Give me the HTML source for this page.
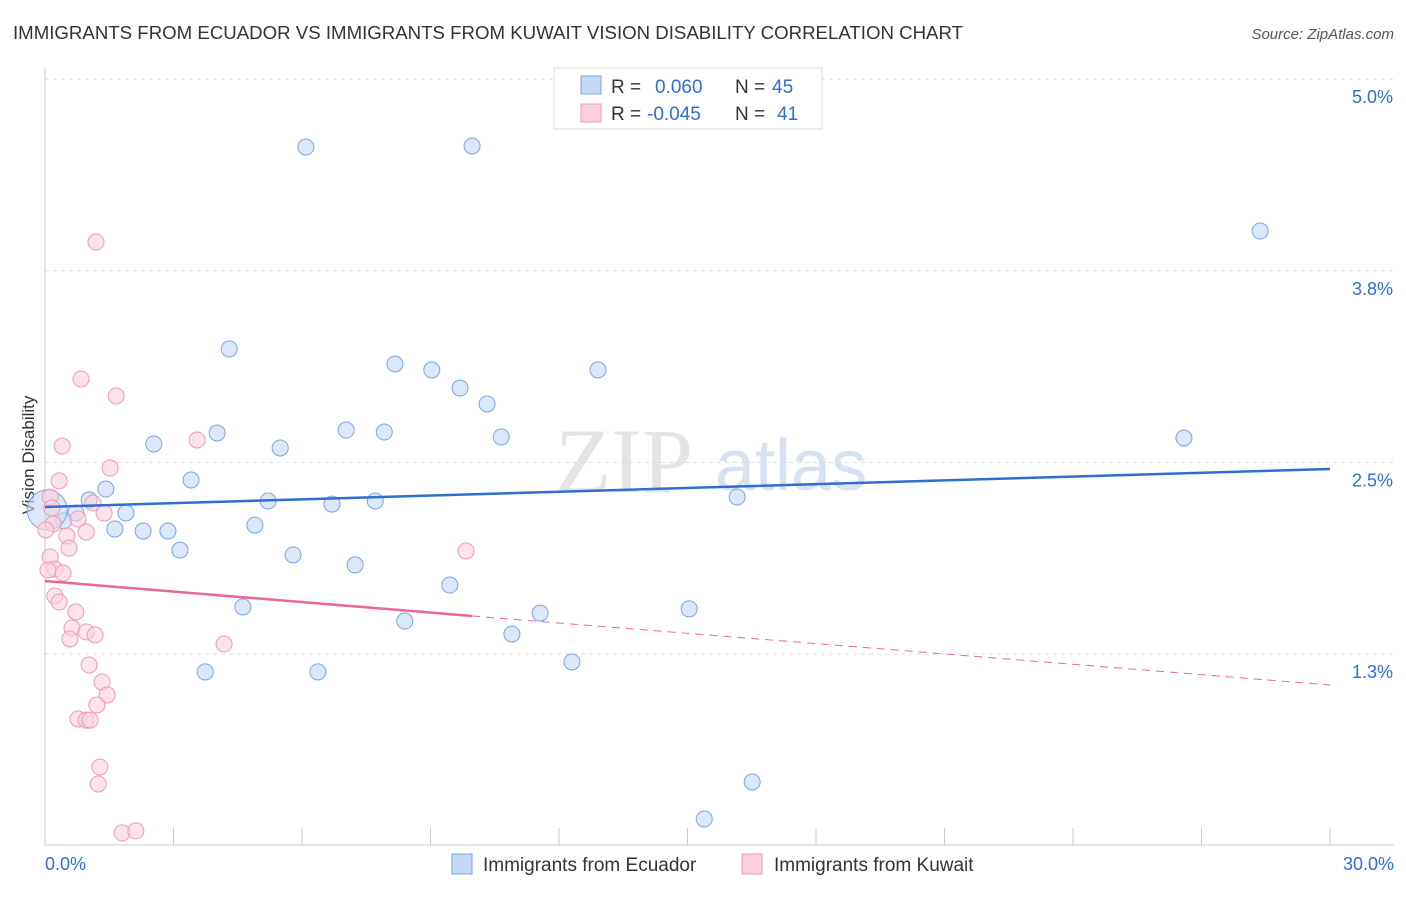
<!DOCTYPE html>
<html><head><meta charset="utf-8">
<style>
body{margin:0;background:#fff;font-family:"Liberation Sans",sans-serif;}
</style></head>
<body>
<svg id="chart" width="1406" height="892" xmlns="http://www.w3.org/2000/svg" font-family="Liberation Sans, sans-serif">
<text x="13" y="39" font-size="18" fill="#333" textLength="950" lengthAdjust="spacingAndGlyphs">IMMIGRANTS FROM ECUADOR VS IMMIGRANTS FROM KUWAIT VISION DISABILITY CORRELATION CHART</text>
<text x="1394" y="39" font-size="15" fill="#555" font-style="italic" text-anchor="end">Source: ZipAtlas.com</text>
<text x="555" y="492" font-size="92" fill="#e4e4e4" font-family="Liberation Serif, serif">ZIP</text>
<text x="715" y="490" font-size="72" fill="#d6e2f2">atlas</text>
<text transform="translate(34,455) rotate(-90)" font-size="17" fill="#333" text-anchor="middle">Vision Disability</text>
<g id="axes"></g>
<g id="marks"></g>
<g>
<rect x="554" y="68" width="268" height="61" fill="#fff" stroke="#ddd"/>
<rect x="581" y="76" width="20" height="18" fill="#c5d9f5" stroke="#7aa6e0"/>
<rect x="581" y="104" width="20" height="18" fill="#fbd0dd" stroke="#f09ab5"/>
<text x="611" y="93" font-size="19" fill="#333">R =</text>
<text x="655" y="93" font-size="19" fill="#2f6fd0">0.060</text>
<text x="735" y="93" font-size="19" fill="#333">N =</text>
<text x="772" y="93" font-size="19" fill="#2f6fd0">45</text>
<text x="611" y="120" font-size="19" fill="#333">R =</text>
<text x="647" y="120" font-size="19" fill="#2f6fd0">-0.045</text>
<text x="735" y="120" font-size="19" fill="#333">N =</text>
<text x="777" y="120" font-size="19" fill="#2f6fd0">41</text>
</g>
<g>
<rect x="452" y="854" width="20" height="20" fill="#c5d9f5" stroke="#7aa6e0"/>
<text x="483" y="871" font-size="19" fill="#333">Immigrants from Ecuador</text>
<rect x="742" y="854" width="20" height="20" fill="#fbd0dd" stroke="#f09ab5"/>
<text x="774" y="871" font-size="19" fill="#333">Immigrants from Kuwait</text>
</g>
</svg>
<script>
const yTicks=[1.25,2.5,3.75,5.0];
const yTickLabels=["1.3%","2.5%","3.8%","5.0%"];
const xTicks=[0,3,6,9,12,15,18,21,24,27,30];
const ecuadorX=[6.09,9.97,28.37,4.30,8.17,9.03,12.91,9.69,10.32,2.54,4.02,5.49,7.03,7.92,10.65,26.59,3.41,1.42,1.03,5.21,6.70,7.71,16.16,1.89,0.72,0.44,1.63,2.29,2.87,4.90,3.15,5.79,7.24,9.45,4.62,11.56,15.04,8.40,10.90,12.30,3.74,6.37,16.51,15.39,0.05];
const ecuadorY=[4.557,4.564,4.009,3.240,3.142,3.103,3.103,2.985,2.881,2.620,2.692,2.594,2.711,2.698,2.666,2.659,2.385,2.326,2.255,2.248,2.228,2.248,2.274,2.170,2.170,2.118,2.065,2.052,2.052,2.091,1.928,1.896,1.831,1.700,1.557,1.517,1.544,1.465,1.380,1.198,1.133,1.133,0.415,0.174,2.189];
const kuwaitX=[1.19,0.84,1.66,0.40,3.55,1.52,0.33,1.12,1.38,0.77,0.19,0.96,0.51,0.56,0.12,9.83,0.23,0.42,0.07,0.23,0.33,0.72,0.63,0.96,1.17,0.58,4.18,1.03,1.33,1.45,1.21,0.77,0.96,1.05,1.28,1.24,1.80,2.12,0.12,0.16,0.02];
const kuwaitY=[3.938,3.044,2.933,2.607,2.646,2.463,2.379,2.235,2.170,2.131,2.098,2.046,2.020,1.941,1.883,1.922,1.804,1.778,1.798,1.628,1.589,1.524,1.420,1.394,1.374,1.348,1.315,1.178,1.067,0.983,0.917,0.826,0.819,0.819,0.513,0.402,0.083,0.096,2.274,2.202,2.059];
const ecuadorTrend=[[0,2.209],[30,2.457]];
const kuwaitTrend=[[0,1.726],[9.97,1.498],[30,1.048]];
const X=v=>45+v*(1285/30);
const Y=v=>654-(v-1.25)*153.3;
const NS="http://www.w3.org/2000/svg";
function mk(tag,attrs,parent){const e=document.createElementNS(NS,tag);for(const k in attrs)e.setAttribute(k,attrs[k]);parent.appendChild(e);return e;}
const axes=document.getElementById('axes'),marks=document.getElementById('marks');
yTicks.forEach((t,i)=>{
 const g=mk('line',{x1:45,x2:1394,y1:Y(t),y2:Y(t),stroke:'#ddd','stroke-dasharray':'4,4'},axes);
 
 
 const tx=mk('text',{x:1393,y:Y(t)+24,'font-size':18,fill:'#2f6fd0','text-anchor':'end'},axes);
 tx.textContent=yTickLabels[i];
 
 
});
const yl=mk('line',{x1:45,x2:45,y1:68,y2:845,stroke:'#ccc'},axes);


const xl=mk('line',{x1:45,x2:1394,y1:845,y2:845,stroke:'#ccc'},axes);


xTicks.forEach(t=>{
 const l=mk('line',{x1:X(t),x2:X(t),y1:828,y2:845,stroke:'#ccc'},axes);
 
 
});
const x0=mk('text',{x:45,y:870,'font-size':18,fill:'#2f6fd0'},axes);x0.textContent='0.0%';


const x1=mk('text',{x:1394,y:870,'font-size':18,fill:'#2f6fd0','text-anchor':'end'},axes);x1.textContent='30.0%';


ecuadorX.forEach((v,i)=>{
 const big=i===ecuadorX.length-1;
 const c=mk('circle',{cx:X(v),cy:Y(ecuadorY[i]),r:big?20:8,fill:'#c5d9f5','fill-opacity':0.6,stroke:'#7aa6e0','stroke-width':1},marks);
 
 
});
kuwaitX.forEach((v,i)=>{
 const c=mk('circle',{cx:X(v),cy:Y(kuwaitY[i]),r:8,fill:'#fbd0dd','fill-opacity':0.6,stroke:'#f09ab5','stroke-width':1},marks);
 
 
});
const bt=mk('line',{x1:X(ecuadorTrend[0][0]),y1:Y(ecuadorTrend[0][1]),x2:X(ecuadorTrend[1][0]),y2:Y(ecuadorTrend[1][1]),stroke:'#2f6fd0','stroke-width':2.5},marks);


const pt=mk('line',{x1:X(kuwaitTrend[0][0]),y1:Y(kuwaitTrend[0][1]),x2:X(kuwaitTrend[1][0]),y2:Y(kuwaitTrend[1][1]),stroke:'#e8689a','stroke-width':2.5},marks);


const pd=mk('line',{x1:X(kuwaitTrend[1][0]),y1:Y(kuwaitTrend[1][1]),x2:X(kuwaitTrend[2][0]),y2:Y(kuwaitTrend[2][1]),stroke:'#e8689a','stroke-width':1,'stroke-dasharray':'8,6'},marks);


</script>
</body></html>
